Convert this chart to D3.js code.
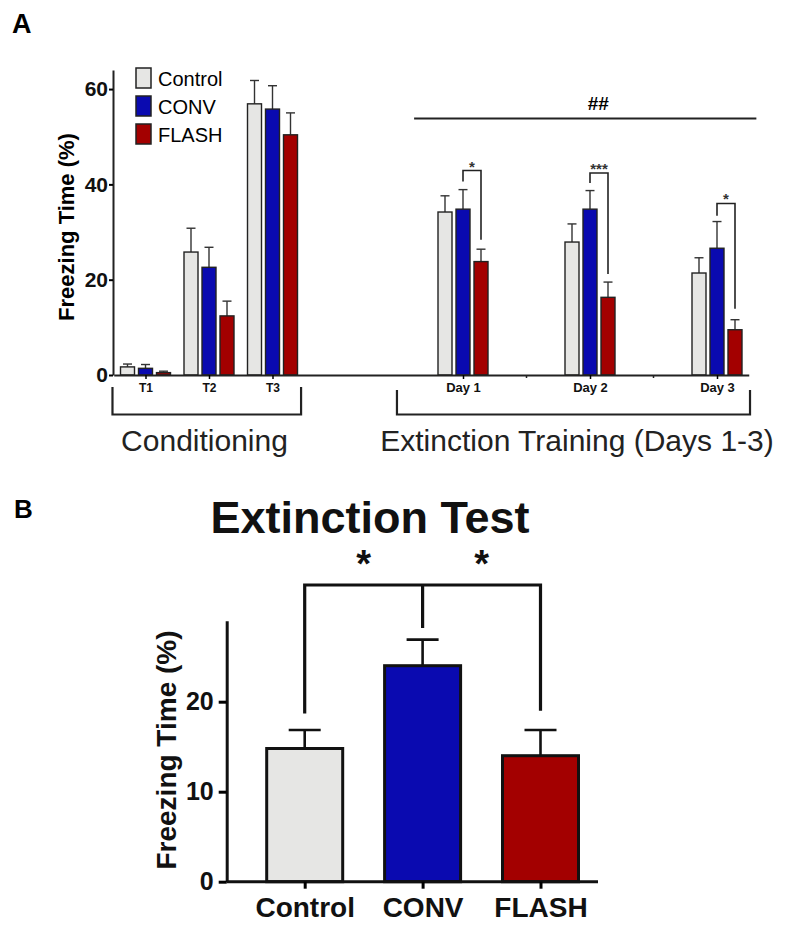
<!DOCTYPE html>
<html>
<head>
<meta charset="utf-8">
<script src="https://cdn.jsdelivr.net/npm/d3@7"></script>
<style>
  body { margin: 0; background: #fff; }
  svg { display: block; font-family: "Liberation Sans", Arial, sans-serif; }
</style>
</head>
<body>
<svg width="798" height="932"></svg>
<script>
"use strict";

// ---- data ----
var groups = ["Control", "CONV", "FLASH"];
var colors = ["#e6e6e4", "#0a0ab0", "#a30000"];

// panel A : sessions (position index on the x axis)
var sessions = ["T1", "T2", "T3", "Day 1", "Day 2", "Day 3"];
var sessionPos = [0, 1, 2, 5, 7, 9];
var controlMean = [1.7, 25.8, 56.9, 34.2, 27.9, 21.4];
var controlSem  = [0.6, 5.0, 4.9, 3.4, 3.8, 3.2];
var convMean    = [1.4, 22.6, 55.8, 34.8, 34.8, 26.6];
var convSem     = [0.8, 4.2, 4.9, 4.1, 3.9, 5.6];
var flashMean   = [0.5, 12.4, 50.4, 23.8, 16.3, 9.5];
var flashSem    = [0.3, 3.1, 4.6, 2.6, 3.2, 2.1];
var yTicksA = [0, 20, 40, 60];

// significance CONV vs FLASH on extinction days: [bracket top, left leg end, right leg end]
var sigDays = [3, 4, 5];
var sigLabels = ["*", "***", "*"];
var sigTop = [42.9, 42.4, 36.0];
var sigLeft = [40.6, 40.3, 33.4];
var sigRight = [28.4, 21.2, 13.9];

// panel B : extinction test
var testMean = [14.8, 24.0, 14.0];
var testSem  = [2.05, 2.9, 2.85];
var yTicksB = [0, 10, 20];
var bracketLegs = [18.7, 28.2, 19.0];

var svg = d3.select("svg");

// ================= panel A =================
var xA = d3.scaleLinear().domain([-0.5, 9.5]).range([113.75, 748.75]);
var yA = d3.scaleLinear().domain([0, 64]).range([375, 70]);
var means = [controlMean, convMean, flashMean];
var sems = [controlSem, convSem, flashSem];
var offA = [-18, 0, 18], bwA = 14;

svg.append("text").attr("x", 12).attr("y", 33)
    .style("font-weight", "bold").style("font-size", "27px").text("A");

var gA = svg.append("g");

// bars
groups.forEach(function(g, gi) {
  var rows = sessions.map(function(s, i) {
    return {pos: sessionPos[i], m: means[gi][i], e: sems[gi][i]};
  });
  var sel = gA.append("g").selectAll("g").data(rows).enter().append("g");
  sel.append("line")
      .attr("x1", function(d) { return xA(d.pos) + offA[gi]; })
      .attr("x2", function(d) { return xA(d.pos) + offA[gi]; })
      .attr("y1", function(d) { return yA(d.m); })
      .attr("y2", function(d) { return yA(d.m + d.e); })
      .attr("stroke", "#333").attr("stroke-width", 1.4);
  sel.append("line")
      .attr("x1", function(d) { return xA(d.pos) + offA[gi] - 4.5; })
      .attr("x2", function(d) { return xA(d.pos) + offA[gi] + 4.5; })
      .attr("y1", function(d) { return yA(d.m + d.e); })
      .attr("y2", function(d) { return yA(d.m + d.e); })
      .attr("stroke", "#333").attr("stroke-width", 1.4);
  sel.append("rect")
      .attr("x", function(d) { return xA(d.pos) + offA[gi] - bwA / 2; })
      .attr("width", bwA)
      .attr("y", function(d) { return yA(d.m); })
      .attr("height", function(d) { return yA(0) - yA(d.m); })
      .attr("fill", colors[gi]).attr("stroke", "#222").attr("stroke-width", 1.4);
});

// y axis
var yAxisA = gA.append("g").attr("transform", "translate(113,0)")
    .call(d3.axisLeft(yA).tickValues(yTicksA).tickSizeInner(4).tickSizeOuter(0).tickPadding(1));
yAxisA.select(".domain").attr("stroke-width", 2).attr("stroke", "#222");
yAxisA.selectAll(".tick line").attr("stroke-width", 2);
yAxisA.selectAll("text").style("font-size", "21px").style("font-weight", "bold")
    .attr("fill", "#111").style("font-family", "Liberation Sans, Arial, sans-serif");

// x axis
var xAxisA = gA.append("g").attr("transform", "translate(0,375)")
    .call(d3.axisBottom(xA).tickValues(sessionPos).tickSizeInner(4).tickSizeOuter(0)
      .tickFormat(function(d, i) { return sessions[i]; }));
xAxisA.select(".domain").attr("stroke-width", 2).attr("stroke", "#222");
xAxisA.selectAll(".tick line").attr("stroke-width", 1.5);
xAxisA.selectAll("text").style("font-weight", "bold").attr("fill", "#111")
    .attr("dy", "0.71em").attr("y", 8)
    .style("font-family", "Liberation Sans, Arial, sans-serif")
    .style("font-size", function(d, i) { return i < 3 ? "12px" : "13px"; });
// minor ticks between days
xAxisA.selectAll(".minor").data([6, 8]).enter().append("line")
    .attr("x1", function(d) { return xA(d); }).attr("x2", function(d) { return xA(d); })
    .attr("y1", 0).attr("y2", 3).attr("stroke", "#222").attr("stroke-width", 1.5);

gA.append("text").attr("transform", "translate(74,227) rotate(-90)")
    .attr("text-anchor", "middle").style("font-weight", "bold").style("font-size", "22px")
    .text("Freezing Time (%)");

// legend
var leg = gA.append("g").selectAll("g").data(groups).enter().append("g")
    .attr("transform", function(d, i) { return "translate(136," + (68 + i * 28) + ")"; });
leg.append("rect").attr("width", 15).attr("height", 20)
    .attr("fill", function(d, i) { return colors[i]; })
    .attr("stroke", "#222").attr("stroke-width", 1.5);
leg.append("text").attr("x", 22).attr("y", 18).style("font-size", "20px").text(function(d) { return d; });

// ## line over extinction days
gA.append("line").attr("x1", xA(4.23)).attr("x2", xA(9.62)).attr("y1", yA(53.8)).attr("y2", yA(53.8))
    .attr("stroke", "#222").attr("stroke-width", 2);
gA.append("text").attr("x", xA(7.13)).attr("y", yA(53.8) - 9).attr("text-anchor", "middle")
    .style("font-weight", "bold").style("font-size", "19px").text("##");

// CONV vs FLASH brackets
sigDays.forEach(function(si, k) {
  var xl = xA(sessionPos[si]) + offA[1], xr = xA(sessionPos[si]) + offA[2];
  gA.append("path")
      .attr("d", "M" + xl + "," + yA(sigLeft[k]) + "V" + yA(sigTop[k]) + "H" + xr + "V" + yA(sigRight[k]))
      .attr("fill", "none").attr("stroke", "#222").attr("stroke-width", 1.6);
  gA.append("text").attr("x", (xl + xr) / 2).attr("y", yA(sigTop[k]) + 1)
      .attr("text-anchor", "middle").style("font-weight", "bold").style("font-size", "15px")
      .attr("fill", "#333").text(sigLabels[k]);
});

// phase brackets
function phaseBracket(x1, x2, top, bottom, label, lx) {
  gA.append("path").attr("d", "M" + x1 + "," + top + "V" + bottom + "H" + x2 + "V" + top)
      .attr("fill", "none").attr("stroke", "#222").attr("stroke-width", 2.2);
  gA.append("text").attr("x", lx).attr("y", 451).attr("text-anchor", "middle")
      .style("font-size", "30px").attr("fill", "#222").text(label);
}
phaseBracket(xA(-0.52), xA(2.45), 387, 414.5, "Conditioning", 204.5);
phaseBracket(xA(3.96), xA(9.52), 390, 414.5, "Extinction Training (Days 1-3)", 577);

// ================= panel B =================
var gB = svg.append("g");
var xB = d3.scalePoint().domain(groups).range([304.7, 540.5]);
var yB = d3.scaleLinear().domain([0, 29]).range([881.7, 620.7]);
var bwB = 76;

svg.append("text").attr("x", 14).attr("y", 518)
    .style("font-weight", "bold").style("font-size", "26px").text("B");
gB.append("text").attr("x", 370).attr("y", 533).attr("text-anchor", "middle")
    .style("font-weight", "bold").style("font-size", "45px").attr("fill", "#111").text("Extinction Test");

var rowsB = groups.map(function(g, i) { return {g: g, m: testMean[i], e: testSem[i], c: colors[i]}; });
var barB = gB.append("g").selectAll("g").data(rowsB).enter().append("g");
barB.append("line")
    .attr("x1", function(d) { return xB(d.g); }).attr("x2", function(d) { return xB(d.g); })
    .attr("y1", function(d) { return yB(d.m); }).attr("y2", function(d) { return yB(d.m + d.e); })
    .attr("stroke", "#111").attr("stroke-width", 2.6);
barB.append("line")
    .attr("x1", function(d) { return xB(d.g) - 16; }).attr("x2", function(d) { return xB(d.g) + 16; })
    .attr("y1", function(d) { return yB(d.m + d.e); }).attr("y2", function(d) { return yB(d.m + d.e); })
    .attr("stroke", "#111").attr("stroke-width", 2.6);
barB.append("rect")
    .attr("x", function(d) { return xB(d.g) - bwB / 2; }).attr("width", bwB)
    .attr("y", function(d) { return yB(d.m); })
    .attr("height", function(d) { return yB(0) - yB(d.m); })
    .attr("fill", function(d) { return d.c; }).attr("stroke", "#111").attr("stroke-width", 3);

var yAxisB = gB.append("g").attr("transform", "translate(226.7,0)")
    .call(d3.axisLeft(yB).tickValues(yTicksB).tickSizeInner(8).tickSizeOuter(0).tickPadding(5));
yAxisB.select(".domain").attr("stroke-width", 3).attr("stroke", "#111");
yAxisB.selectAll(".tick line").attr("stroke-width", 3);
yAxisB.selectAll("text").style("font-size", "25px").style("font-weight", "bold")
    .attr("fill", "#111").style("font-family", "Liberation Sans, Arial, sans-serif");

var xAxisB = gB.append("g").attr("transform", "translate(0,881.7)")
    .call(d3.axisBottom(xB).tickSizeInner(7).tickSizeOuter(0));
xAxisB.select(".domain").attr("d", "M226.7,0H598").attr("stroke-width", 3).attr("stroke", "#111");
xAxisB.selectAll(".tick line").attr("stroke-width", 3);
xAxisB.selectAll("text").style("font-size", "28px").style("font-weight", "bold")
    .attr("fill", "#111").attr("dy", null).attr("y", 35)
    .style("font-family", "Liberation Sans, Arial, sans-serif");

gB.append("text").attr("transform", "translate(176,750) rotate(-90)")
    .attr("text-anchor", "middle").style("font-weight", "bold").style("font-size", "28px")
    .attr("fill", "#111").text("Freezing Time (%)");

// comparison bracket
gB.append("path")
    .attr("d", "M" + xB("Control") + "," + yB(bracketLegs[0]) + "V585H" + xB("FLASH") + "V" + yB(bracketLegs[2]) +
               "M" + xB("CONV") + ",585V" + yB(bracketLegs[1]))
    .attr("fill", "none").attr("stroke", "#111").attr("stroke-width", 3.2);
[ (xB("Control") + xB("CONV")) / 2, (xB("CONV") + xB("FLASH")) / 2 ].forEach(function(x) {
  gB.append("text").attr("x", x).attr("y", 577).attr("text-anchor", "middle")
      .style("font-weight", "bold").style("font-size", "38px").attr("fill", "#111").text("*");
});
</script>
</body>
</html>
